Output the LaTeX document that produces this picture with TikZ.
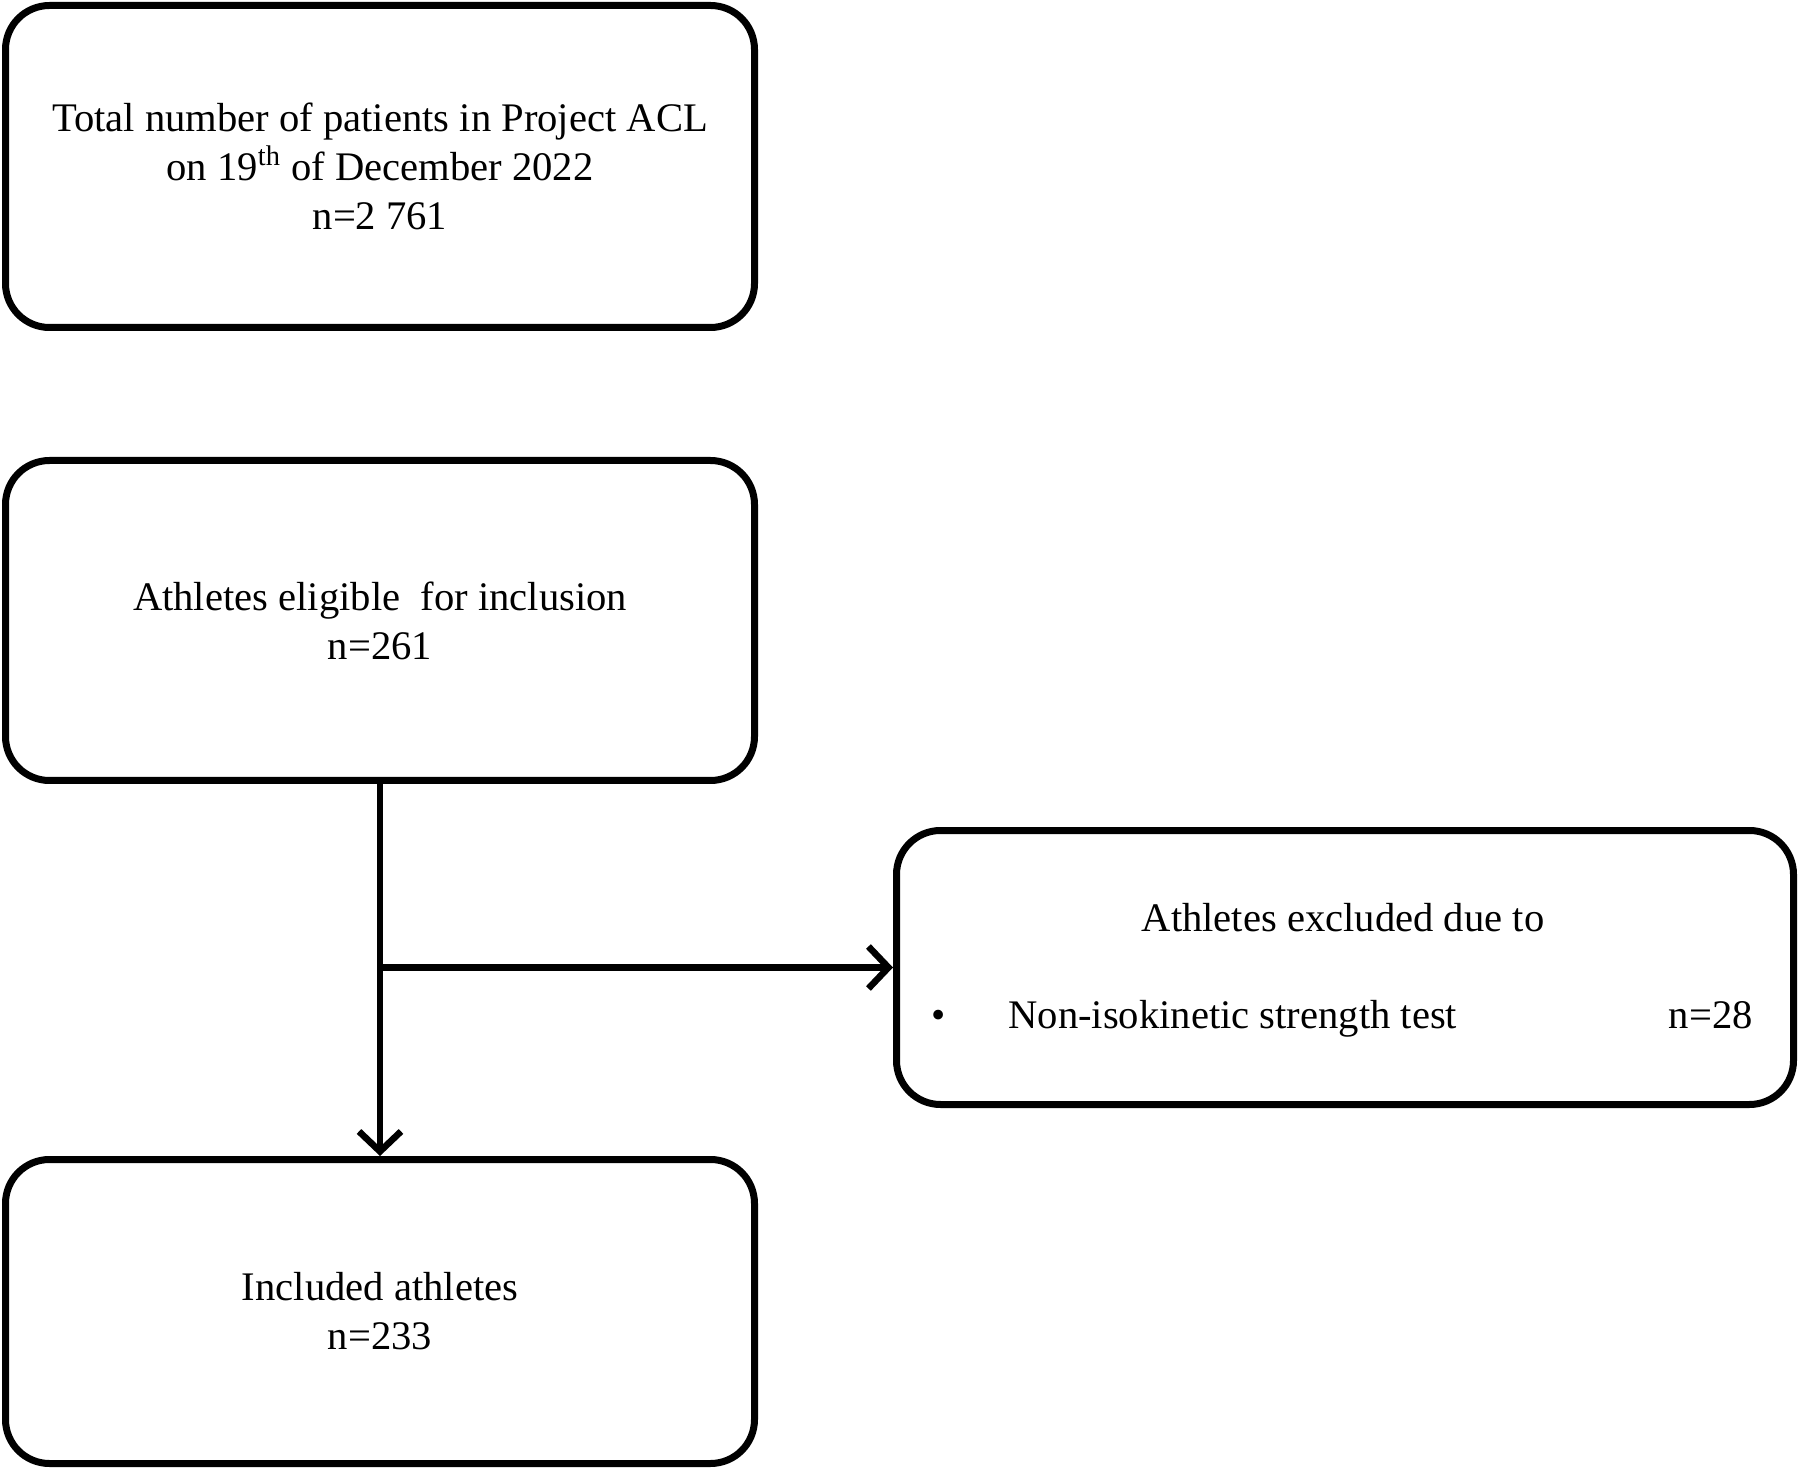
\documentclass[tikz,border=0pt]{standalone}
\usepackage{fontspec}
\setmainfont{Liberation Serif}
\usetikzlibrary{positioning,arrows.meta}

\tikzset{
  flowbox/.style={draw, line width=3.5pt, rounded corners=22pt, align=center,
    minimum width=374.5pt, font=\fontsize{20.3}{24.5}\selectfont},
  flowtext/.style={inner sep=0pt, font=\fontsize{20.3}{24.5}\selectfont},
  flowarrow/.style={line width=3.3pt, -{Straight Barb[length=10pt,width=21pt,line width=3.3pt]}}
}

\begin{document}
\begin{tikzpicture}[x=0.5pt, y=-0.5pt]
          \useasboundingbox (0,0) rectangle (1800,1470);
          \node[flowbox, minimum height=161pt] (total) at (380, 166.5)
            {Total number of patients in Project ACL\\on 19\textsuperscript{th} of December 2022\\n=2 761};
          \node[flowbox, minimum height=160pt] (eligible) at (380, 620.5)
            {Athletes eligible\ \ for inclusion\\n=261};
          \node[flowbox, minimum height=152pt] (included) at (380, 1311.5)
            {Included athletes\\n=233};
          \node[flowbox, minimum width=448.5pt, minimum height=137pt] (excluded) at (1345, 967.5) {};
          % text inside the exclusion box
          \node[flowtext, anchor=base] (exclhead) at (1343, 931) {Athletes excluded due to};
          \node[flowtext, anchor=base] (bullet) at (939, 1028) {\textbullet};
          \node[flowtext, anchor=base west] (reason) at (1008, 1028) {Non-isokinetic strength test};
          \node[flowtext, anchor=base east] (nexcl) at (1753, 1028) {n=28};
          \coordinate (split) at (eligible.south |- excluded.west);
          \draw[flowarrow] (eligible.south) -- (included.north);
          \draw[flowarrow] (split) -- (excluded.west);
        \end{tikzpicture}
\end{document}
